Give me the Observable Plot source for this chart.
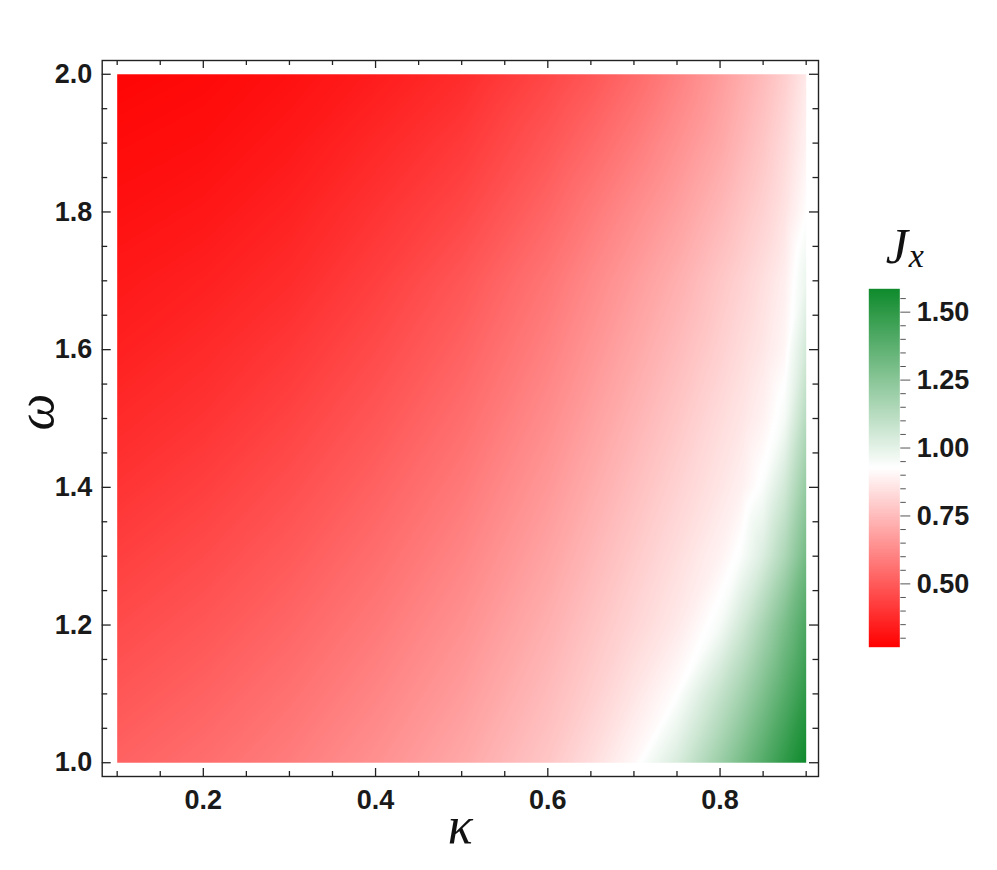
<!DOCTYPE html>
<html><head><meta charset="utf-8">
<script src="https://cdn.jsdelivr.net/npm/d3@7"></script>
<script src="https://cdn.jsdelivr.net/npm/@observablehq/plot@0.6"></script>
<style>
html,body{margin:0;padding:0;background:#fff;}
#wrap{position:relative;width:997px;height:870px;overflow:hidden;background:#fff;}
#main,#bar{position:absolute;}
#main{left:0;top:0;}
#bar{left:840px;top:200px;}
</style></head><body>
<div id="wrap"><div id="main"></div><div id="bar"></div></div>
<script>
// grid of kappa (columns) and omega (rows)
const kappa = [0.1, 0.2, 0.3, 0.4, 0.5, 0.6, 0.65, 0.7, 0.75, 0.8, 0.825, 0.85, 0.875, 0.9];
const omega = [1.0, 1.1, 1.2, 1.3, 1.4, 1.5, 1.6, 1.7, 1.8, 1.9, 2.0];
// J_x values, one row per omega
const Jx = [
  [0.52, 0.55, 0.59, 0.64, 0.70, 0.78, 0.84, 0.91, 1.03, 1.20, 1.295, 1.395, 1.495, 1.586],
  [0.49, 0.52, 0.56, 0.61, 0.67, 0.75, 0.80, 0.86, 0.925, 1.085, 1.175, 1.28, 1.39, 1.50],
  [0.46, 0.49, 0.53, 0.58, 0.64, 0.72, 0.77, 0.82, 0.87, 0.95, 1.05, 1.165, 1.29, 1.42],
  [0.43, 0.46, 0.50, 0.55, 0.61, 0.69, 0.74, 0.79, 0.84, 0.895, 0.94, 1.025, 1.15, 1.31],
  [0.40, 0.43, 0.47, 0.52, 0.58, 0.66, 0.71, 0.76, 0.81, 0.86, 0.89, 0.94, 1.05, 1.22],
  [0.375, 0.40, 0.44, 0.49, 0.55, 0.63, 0.68, 0.73, 0.78, 0.835, 0.86, 0.895, 0.95, 1.13],
  [0.35, 0.375, 0.41, 0.46, 0.52, 0.60, 0.65, 0.70, 0.75, 0.805, 0.835, 0.865, 0.905, 1.05],
  [0.33, 0.35, 0.38, 0.43, 0.49, 0.57, 0.62, 0.67, 0.72, 0.78, 0.81, 0.845, 0.885, 0.98],
  [0.31, 0.325, 0.355, 0.40, 0.45, 0.53, 0.58, 0.63, 0.68, 0.74, 0.775, 0.81, 0.855, 0.925],
  [0.295, 0.305, 0.33, 0.37, 0.415, 0.49, 0.535, 0.585, 0.64, 0.70, 0.74, 0.78, 0.83, 0.895],
  [0.28, 0.29, 0.31, 0.34, 0.38, 0.45, 0.49, 0.54, 0.60, 0.67, 0.71, 0.75, 0.80, 0.87]
];
const xMajor = [0.2, 0.4, 0.6, 0.8];
const xMinor = [0.1, 0.15, 0.25, 0.3, 0.35, 0.45, 0.5, 0.55, 0.65, 0.7, 0.75, 0.85, 0.9];
const yMajor = [1.0, 1.2, 1.4, 1.6, 1.8, 2.0];
const yMinor = [1.05, 1.1, 1.15, 1.25, 1.3, 1.35, 1.45, 1.5, 1.55, 1.65, 1.7, 1.75, 1.85, 1.9, 1.95];
const cbMajor = [0.5, 0.75, 1.0, 1.25, 1.5];
const cbMinor = [0.3, 0.35, 0.4, 0.45, 0.55, 0.6, 0.65, 0.7, 0.8, 0.85, 0.9, 0.95, 1.05, 1.1, 1.15, 1.2, 1.3, 1.35, 1.4, 1.45, 1.55];
const colorDomain = [0.267, 1.586];
const colorStops = ["#ff0000", "#ffffff", "#0f8a2c"];

const points = omega.flatMap((w, i) => kappa.map((k, j) => ({k, w, v: Jx[i][j]})));

const colorScale = {type: "linear", domain: colorDomain, interpolate: d3.piecewise(d3.interpolateRgb, colorStops)};
const tickFont = {fontFamily: "Liberation Sans", fontWeight: "bold", fontSize: "27px", color: "#1a1a1a", background: "transparent"};

const W = 840, H = 870, mL = 101.7, mR = 22, mT = 60, mB = 94;
const innerW = W - mL - mR, innerH = H - mT - mB;
const tickStroke = "#222";

const main = Plot.plot({
  width: W, height: H,
  marginLeft: mL, marginRight: mR, marginTop: mT, marginBottom: mB,
  x: {domain: [0.0826, 0.9143]},
  y: {domain: [0.98, 2.02]},
  color: colorScale,
  style: tickFont,
  marks: [
    Plot.raster(points, {x: "k", y: "w", fill: "v", interpolate: "barycentric", x1: 0.1, x2: 0.9, y1: 1, y2: 2}),
    // inward ticks, bottom / top
    Plot.tickX(xMajor, {x: d => d, insetTop: innerH - 8, stroke: tickStroke, strokeWidth: 1.3}),
    Plot.tickX(xMinor, {x: d => d, insetTop: innerH - 5, stroke: tickStroke, strokeWidth: 1.3}),
    Plot.tickX(xMajor, {x: d => d, insetBottom: innerH - 8, stroke: tickStroke, strokeWidth: 1.3}),
    Plot.tickX(xMinor, {x: d => d, insetBottom: innerH - 5, stroke: tickStroke, strokeWidth: 1.3}),
    // inward ticks, left / right
    Plot.tickY(yMajor, {y: d => d, insetRight: innerW - 9, stroke: tickStroke, strokeWidth: 1.3}),
    Plot.tickY(yMinor, {y: d => d, insetRight: innerW - 5.5, stroke: tickStroke, strokeWidth: 1.3}),
    Plot.tickY(yMajor, {y: d => d, insetLeft: innerW - 9, stroke: tickStroke, strokeWidth: 1.3}),
    Plot.tickY(yMinor, {y: d => d, insetLeft: innerW - 5.5, stroke: tickStroke, strokeWidth: 1.3}),
    Plot.axisX({ticks: xMajor, tickSize: 0, tickPadding: 13, tickFormat: d3.format(".1f"), label: null, fill: "#1a1a1a"}),
    Plot.axisY({ticks: yMajor, tickSize: 0, tickPadding: 10, tickFormat: d3.format(".1f"), label: null, fill: "#1a1a1a"}),
    Plot.frame({stroke: "#222", strokeWidth: 1.4}),
    Plot.text(["κ"], {frameAnchor: "bottom", dy: 66, text: d => d, fontFamily: "Liberation Serif", fontStyle: "italic", fontWeight: "normal", fontSize: 52, fill: "#111", lineAnchor: "bottom"}),
    Plot.text(["ω"], {frameAnchor: "left", dx: -66, dy: 12, rotate: -90, text: d => d, fontFamily: "Liberation Serif", fontStyle: "italic", fontWeight: "normal", fontSize: 52, fill: "#111", lineAnchor: "middle"})
  ]
});
document.getElementById("main").appendChild(main);

// colour bar
const bW = 157, bH = 470, bL = 28.3, bT = 88.3, bB = 23.3, bR = bW - bL - 31;
const bar = Plot.plot({
  width: bW, height: bH,
  marginLeft: bL, marginRight: bR, marginTop: bT, marginBottom: bB,
  x: {domain: [0, 1], axis: null},
  y: {domain: colorDomain},
  color: colorScale,
  style: tickFont,
  marks: [
    Plot.raster({x1: 0, x2: 1, y1: colorDomain[0], y2: colorDomain[1], fill: (x, y) => y}),
    Plot.axisY({anchor: "right", ticks: cbMajor, tickSize: 10, tickPadding: 7, tickFormat: d3.format(".2f"), label: null, stroke: "#555", fill: "#1a1a1a"}),
    Plot.axisY({anchor: "right", ticks: cbMinor, tickSize: 5.5, tickFormat: () => "", label: null, stroke: "#555"}),
    Plot.text(["J"], {frameAnchor: "top-left", dx: 17, dy: -26, text: d => d, fontFamily: "Liberation Serif", fontStyle: "italic", fontWeight: "normal", fontSize: 50, fill: "#111", lineAnchor: "bottom", textAnchor: "start"}),
    Plot.text(["x"], {frameAnchor: "top-left", dx: 40, dy: -22, text: d => d, fontFamily: "Liberation Serif", fontStyle: "italic", fontWeight: "normal", fontSize: 34, fill: "#111", lineAnchor: "bottom", textAnchor: "start"})
  ]
});
document.getElementById("bar").appendChild(bar);
</script>
</body></html>
